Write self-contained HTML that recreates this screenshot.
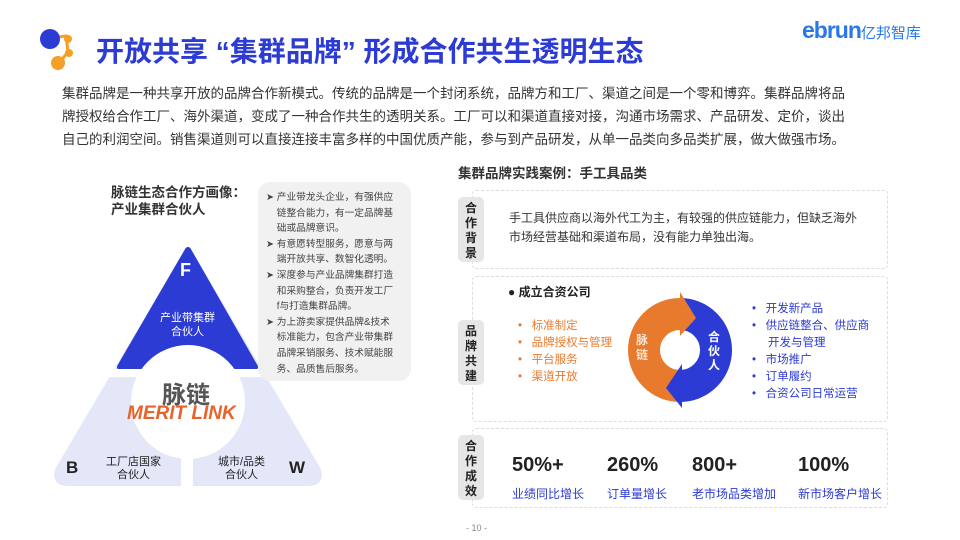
<!DOCTYPE html>
<html><head><meta charset="utf-8"><style>
*{margin:0;padding:0;box-sizing:border-box}
body{width:960px;height:540px;background:#fff;position:relative;overflow:hidden;font-family:"Liberation Sans","Noto Sans CJK SC",sans-serif;color:#333}
.a{position:absolute;white-space:nowrap}
.title{left:96px;top:30px;font-size:28px;font-weight:bold;color:#2b3bd4}
.body{left:62px;top:82px;font-size:13.5px;line-height:23px;color:#333}
.box{position:absolute;border:1.5px dashed #ddd;border-radius:4px}
.lab{position:absolute;left:458px;width:26px;background:#e6e6e6;border-radius:5px;font-size:12px;font-weight:bold;color:#222;text-align:center;line-height:15px;padding-top:4px}
.num{font-size:20px;font-weight:bold;color:#222}
.sub{font-size:12px;color:#2b3bd4}
.ol{font-size:11.5px;color:#e87a2e;line-height:17px}
.bl{font-size:11.5px;color:#2b3bd4;line-height:17px}
</style></head><body>
<svg class="a" style="left:36px;top:26px" width="46" height="46" viewBox="0 0 46 46">
<path d="M14 12 L30 10 L32 26 L22 38" stroke="#f4a024" stroke-width="3" fill="none"/>
<circle cx="14" cy="13" r="10" fill="#2b3bd4"/><circle cx="32" cy="13" r="4" fill="#f4a024"/><circle cx="33" cy="27" r="4" fill="#f4a024"/><circle cx="22" cy="37" r="7" fill="#f4a024"/></svg>
<div class="a title">开放共享 “集群品牌” 形成合作共生透明生态</div>
<div class="a" style="left:802px;top:17px;font-size:23px;font-weight:bold;color:#2a78e6;letter-spacing:-1px">ebrun<span style="font-size:15px;font-weight:normal;letter-spacing:0">亿邦智库</span></div>
<div class="a body">集群品牌是一种共享开放的品牌合作新模式。传统的品牌是一个封闭系统，品牌方和工厂、渠道之间是一个零和博弈。集群品牌将品<br>牌授权给合作工厂、海外渠道，变成了一种合作共生的透明关系。工厂可以和渠道直接对接，沟通市场需求、产品研发、定价，谈出<br>自己的利润空间。销售渠道则可以直接连接丰富多样的中国优质产能，参与到产品研发，从单一品类向多品类扩展，做大做强市场。</div>

<div class="a" style="left:111px;top:184px;font-size:13.5px;font-weight:bold;line-height:17px;color:#333">脉链生态合作方画像：<br>产业集群合伙人</div>
<svg class="a" style="left:0;top:0" width="450" height="540">
<path d="M188 250 L318 470 Q322 483 308 483 L68 483 Q54 483 58 470 Z" fill="#e3e7f8" stroke="#e3e7f8" stroke-width="6" stroke-linejoin="round"/>
<path d="M188 250 L255 367 L120 367 Z" fill="#2b3bd4" stroke="#2b3bd4" stroke-width="6" stroke-linejoin="round"/>
<path d="M100 373 L275 373" stroke="#fff" stroke-width="8"/>
<circle cx="188" cy="402" r="57" fill="#fff"/>
<rect x="181" y="440" width="12" height="48" fill="#fff"/>
</svg>
<div class="a" style="left:180px;top:260px;font-size:18px;font-weight:bold;color:#fff">F</div>
<div class="a" style="left:160px;top:311px;font-size:11px;color:#fff;text-align:center;line-height:14px">产业带集群<br>合伙人</div>
<div class="a" style="left:162px;top:375px;font-size:24px;font-weight:bold;color:#555">脉链</div>
<div class="a" style="left:127px;top:403px;font-size:19px;font-weight:bold;font-style:italic;color:#e8622a">MERIT LINK</div>
<div class="a" style="left:66px;top:458px;font-size:17px;font-weight:bold;color:#222">B</div>
<div class="a" style="left:106px;top:456px;font-size:11px;color:#222;text-align:center;line-height:13px">工厂店国家<br>合伙人</div>
<div class="a" style="left:218px;top:456px;font-size:11px;color:#222;text-align:center;line-height:13px">城市/品类<br>合伙人</div>
<div class="a" style="left:289px;top:458px;font-size:17px;font-weight:bold;color:#222">W</div>
<div class="a" style="left:258px;top:182px;width:153px;height:199px;background:#f0f0f0;border-radius:12px;opacity:.95"></div>
<div class="a" style="left:266px;top:190px;font-size:9.7px;line-height:15.6px;color:#444">➤ 产业带龙头企业，有强供应<br>&nbsp;&nbsp;&nbsp; 链整合能力，有一定品牌基<br>&nbsp;&nbsp;&nbsp; 础或品牌意识。<br>➤ 有意愿转型服务，愿意与两<br>&nbsp;&nbsp;&nbsp; 端开放共享、数智化透明。<br>➤ 深度参与产业品牌集群打造<br>&nbsp;&nbsp;&nbsp; 和采购整合，负责开发工厂<br>&nbsp;&nbsp;&nbsp; f与打造集群品牌。<br>➤ 为上游卖家提供品牌&amp;技术<br>&nbsp;&nbsp;&nbsp; 标准能力，包含产业带集群<br>&nbsp;&nbsp;&nbsp; 品牌采销服务、技术赋能服<br>&nbsp;&nbsp;&nbsp; 务、品质售后服务。</div>

<div class="a" style="left:458px;top:162px;font-size:13.5px;font-weight:bold;color:#333">集群品牌实践案例：手工具品类</div>
<div class="box" style="left:472px;top:190px;width:416px;height:79px"></div>
<div class="box" style="left:472px;top:276px;width:416px;height:146px"></div>
<div class="box" style="left:472px;top:428px;width:416px;height:80px"></div>
<div class="lab" style="top:197px;height:65px">合<br>作<br>背<br>景</div>
<div class="lab" style="top:320px;height:65px">品<br>牌<br>共<br>建</div>
<div class="lab" style="top:435px;height:65px">合<br>作<br>成<br>效</div>
<div class="a" style="left:509px;top:209px;font-size:12px;line-height:19px;color:#333">手工具供应商以海外代工为主，有较强的供应链能力，但缺乏海外<br>市场经营基础和渠道布局，没有能力单独出海。</div>
<div class="a" style="left:508px;top:283px;font-size:12px;font-weight:bold;color:#222">● 成立合资公司</div>
<div class="a ol" style="left:518px;top:318px">•&nbsp;&nbsp; 标准制定<br>•&nbsp;&nbsp; 品牌授权与管理<br>•&nbsp;&nbsp; 平台服务<br>•&nbsp;&nbsp; 渠道开放</div>
<div class="a bl" style="left:752px;top:301px">•&nbsp;&nbsp; 开发新产品<br>•&nbsp;&nbsp; 供应链整合、供应商<br>&nbsp;&nbsp;&nbsp;&nbsp; 开发与管理<br>•&nbsp;&nbsp; 市场推广<br>•&nbsp;&nbsp; 订单履约<br>•&nbsp;&nbsp; 合资公司日常运营</div>
<svg class="a" style="left:620px;top:290px" width="120" height="120" viewBox="0 0 120 120">
<path d="M60 96 A36 36 0 0 0 60 24" stroke="#2b3bd4" stroke-width="32" fill="none"/>
<path d="M60 24 A36 36 0 0 0 60 96" stroke="#e87a2e" stroke-width="32" fill="none"/>
<path d="M60 2 L60 46 L76 28 Z" fill="#e87a2e"/>
<path d="M62 74 L62 118 L46 98 Z" fill="#2b3bd4"/>
</svg>
<div class="a" style="left:636px;top:333px;font-size:12px;font-weight:bold;color:#fbe3d0;line-height:15px">脉<br>链</div>
<div class="a" style="left:708px;top:330px;font-size:12px;font-weight:bold;color:#fff;line-height:14px">合<br>伙<br>人</div>
<div class="a num" style="left:512px;top:454px">50%+</div>
<div class="a num" style="left:607px;top:454px">260%</div>
<div class="a num" style="left:692px;top:454px">800+</div>
<div class="a num" style="left:798px;top:454px">100%</div>
<div class="a sub" style="left:512px;top:485px">业绩同比增长</div>
<div class="a sub" style="left:607px;top:485px">订单量增长</div>
<div class="a sub" style="left:692px;top:485px">老市场品类增加</div>
<div class="a sub" style="left:798px;top:485px">新市场客户增长</div>
<div class="a" style="left:466px;top:523px;font-size:9px;color:#888">- 10 -</div>
</body></html>
